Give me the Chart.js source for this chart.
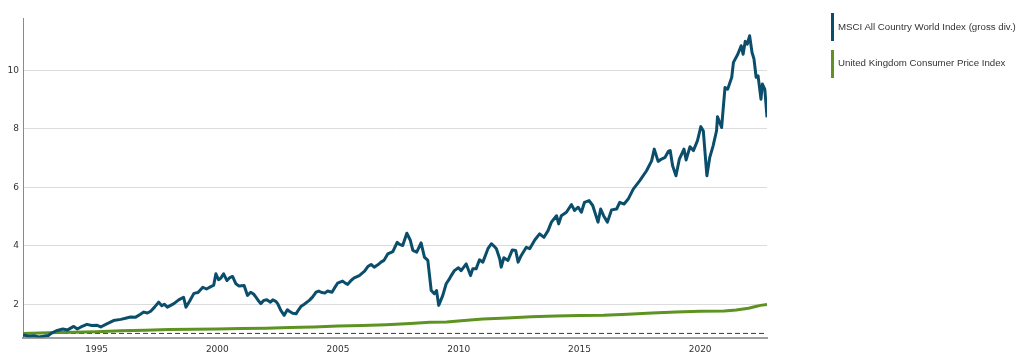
<!DOCTYPE html>
<html>
<head>
<meta charset="utf-8">
<script src="https://cdn.jsdelivr.net/npm/chart.js@4"></script>
<style>
  html, body { margin: 0; padding: 0; background: #fff; }
  #wrap { position: relative; width: 1024px; height: 359px; overflow: hidden; }
  #c { position: absolute; left: 0; top: 0; }
  .lg { position: absolute; left: 831px; width: 2.5px; }
  .lt { position: absolute; left: 838px; font-family: "Liberation Sans", Arial, sans-serif; font-size: 9.7px; color: #333; white-space: nowrap; line-height: 12px; }
</style>
</head>
<body>
<div id="wrap">
  <canvas id="c" width="1024" height="359"></canvas>
  <div class="lg" style="top:13px;height:28px;background:#0b4e6c"></div>
  <div class="lt" style="top:21px">MSCI All Country World Index (gross div.)</div>
  <div class="lg" style="top:50px;height:28px;background:#5e9322"></div>
  <div class="lt" style="top:57px">United Kingdom Consumer Price Index</div>
</div>
<script>
const seriesNames = ["MSCI All Country World Index (gross div.)", "United Kingdom Consumer Price Index"];
const xTickLabels = [1995, 2000, 2005, 2010, 2015, 2020];
const yTickLabels = [2, 4, 6, 8, 10];
const baselineValue = 1;
const xRange = [1991.95, 2022.77];
const yRange = [0.86, 11.8];

const acwiYears = [
1991.95,1992.2,1992.4,1992.6,1992.8,1993.0,1993.15,1993.37,1993.6,1993.8,1994.05,1994.2,1994.35,1994.6,1994.8,1995.0,1995.17,1995.4,1995.7,1996.0,
1996.2,1996.4,1996.6,1996.8,1996.95,1997.1,1997.24,1997.4,1997.57,1997.7,1997.8,1997.93,1998.2,1998.4,1998.6,1998.7,1998.85,1999.03,1999.2,1999.4,
1999.55,1999.73,1999.85,1999.94,2000.05,2000.15,2000.26,2000.4,2000.5,2000.63,2000.77,2000.9,2001.11,2001.25,2001.38,2001.5,2001.6,2001.72,2001.8,2001.92,
2002.05,2002.2,2002.3,2002.42,2002.5,2002.63,2002.77,2002.9,2003.0,2003.12,2003.26,2003.36,2003.46,2003.6,2003.81,2003.95,2004.09,2004.2,2004.3,2004.45,
2004.57,2004.75,2004.85,2004.98,2005.19,2005.3,2005.4,2005.55,2005.67,2005.88,2006.1,2006.25,2006.37,2006.5,2006.65,2006.78,2006.9,2007.06,2007.27,2007.45,
2007.55,2007.68,2007.85,2007.99,2008.1,2008.26,2008.44,2008.58,2008.72,2008.86,2008.99,2009.08,2009.17,2009.34,2009.48,2009.6,2009.69,2009.82,2009.99,2010.1,
2010.31,2010.49,2010.58,2010.72,2010.86,2011.0,2011.21,2011.35,2011.45,2011.56,2011.7,2011.76,2011.87,2012.04,2012.22,2012.36,2012.46,2012.59,2012.8,2012.94,
2013.15,2013.35,2013.53,2013.7,2013.84,2014.05,2014.14,2014.25,2014.46,2014.67,2014.8,2014.95,2015.08,2015.21,2015.4,2015.55,2015.77,2015.88,2016.0,2016.16,
2016.33,2016.54,2016.67,2016.85,2017.02,2017.23,2017.5,2017.78,2017.99,2018.1,2018.26,2018.4,2018.55,2018.68,2018.76,2018.86,2019.0,2019.14,2019.33,2019.42,
2019.58,2019.72,2019.89,2020.03,2020.13,2020.28,2020.4,2020.54,2020.68,2020.72,2020.89,2020.96,2021.03,2021.14,2021.31,2021.38,2021.56,2021.7,2021.78,2021.87,
2021.95,2022.05,2022.15,2022.23,2022.32,2022.4,2022.52,2022.58,2022.68,2022.77];
const acwiValues = [
0.95,0.9,0.92,0.88,0.9,0.93,1.02,1.1,1.15,1.12,1.24,1.15,1.22,1.31,1.27,1.28,1.22,1.32,1.44,1.48,
1.52,1.56,1.55,1.65,1.73,1.7,1.76,1.9,2.07,1.95,2.0,1.9,2.02,2.15,2.24,1.9,2.1,2.37,2.4,2.58,
2.52,2.6,2.65,3.04,2.84,2.9,3.04,2.81,2.9,2.95,2.7,2.62,2.64,2.3,2.41,2.35,2.24,2.1,2.02,2.13,
2.15,2.07,2.15,2.1,2.02,1.79,1.62,1.81,1.75,1.69,1.67,1.8,1.92,2.0,2.13,2.25,2.41,2.45,2.41,2.38,
2.45,2.41,2.55,2.72,2.79,2.72,2.68,2.82,2.9,2.98,3.13,3.3,3.36,3.27,3.35,3.44,3.5,3.72,3.8,4.12,
4.05,4.01,4.43,4.2,3.84,3.78,4.1,3.61,3.5,2.47,2.36,2.47,1.96,2.3,2.7,2.85,2.98,3.15,3.25,3.15,
3.38,2.98,3.21,3.21,3.52,3.44,3.9,4.07,4.0,3.9,3.55,3.27,3.59,3.5,3.86,3.84,3.44,3.67,3.95,3.9,
4.2,4.41,4.29,4.52,4.81,5.03,4.75,5.03,5.15,5.41,5.21,5.32,5.15,5.49,5.55,5.38,4.81,5.26,5.03,4.81,
5.23,5.26,5.49,5.43,5.6,5.94,6.23,6.57,6.91,7.31,6.89,6.97,7.03,7.23,7.26,6.74,6.4,6.97,7.31,6.94,
7.39,7.26,7.6,8.08,7.94,6.4,7.03,7.43,7.94,8.42,8.05,8.74,9.42,9.36,9.77,10.28,10.56,10.85,10.56,11.0,
10.9,11.19,10.62,10.4,9.77,9.82,9.02,9.54,9.36,8.4];

const cpiYears = [1991.95,1993,1994,1995,1996,1997,1998,1999,2000,2001,2002,2003,2004,2005,2006,2007,2008,2008.8,2009.5,2010.1,
2011,2012,2013,2014,2015,2016,2017,2018,2019,2020,2021,2021.5,2022.0,2022.3,2022.5,2022.77];
const cpiValues = [1.0,1.02,1.04,1.06,1.09,1.11,1.13,1.14,1.15,1.17,1.18,1.2,1.22,1.25,1.27,1.3,1.34,1.38,1.39,1.43,
1.49,1.53,1.57,1.6,1.61,1.62,1.66,1.7,1.73,1.76,1.77,1.8,1.86,1.92,1.96,1.99];

const toXY = (xs, ys) => xs.map((x, i) => ({ x: x, y: ys[i] }));

new Chart(document.getElementById('c'), {
  type: 'line',
  data: {
    datasets: [
      { label: seriesNames[0], data: toXY(acwiYears, acwiValues), borderColor: '#0b4e6c', borderWidth: 3, pointRadius: 0, tension: 0, order: 1, borderJoinStyle: 'round' },
      { label: seriesNames[1], data: toXY(cpiYears, cpiValues), borderColor: '#5e9322', borderWidth: 3, pointRadius: 0, tension: 0, order: 2 },
      { label: 'baseline', data: toXY(xRange, [baselineValue, baselineValue]), borderColor: '#3a3a3a', borderWidth: 1, borderDash: [5, 3], pointRadius: 0, order: 3 }
    ]
  },
  options: {
    responsive: false,
    animation: false,
    devicePixelRatio: 1,
    layout: { padding: { top: 18, right: 257, left: 0, bottom: 0 } },
    plugins: { legend: { display: false }, tooltip: { enabled: false } },
    scales: {
      x: {
        type: 'linear',
        min: xRange[0], max: xRange[1],
        afterBuildTicks: s => { s.ticks = xTickLabels.map(v => ({ value: v })); },
        afterFit: s => { s.height = 21.5; },
        grid: { display: false, drawTicks: false },
        border: { display: true, color: '#a0a0a0', width: 2 },
        ticks: { padding: 7, color: '#333', font: { family: 'DejaVu Sans', size: 9 }, callback: v => String(v), maxRotation: 0, autoSkip: false }
      },
      y: {
        type: 'linear',
        min: yRange[0], max: yRange[1],
        afterBuildTicks: s => { s.ticks = yTickLabels.map(v => ({ value: v })); },
        afterFit: s => { s.width = 23; },
        grid: { color: '#dcdcdc', lineWidth: 1, drawTicks: false },
        border: { display: true, color: '#8a8a8a', width: 1 },
        ticks: { padding: 4, color: '#333', font: { family: 'DejaVu Sans', size: 9 }, callback: v => String(v), autoSkip: false }
      }
    }
  }
});
</script>
</body>
</html>
